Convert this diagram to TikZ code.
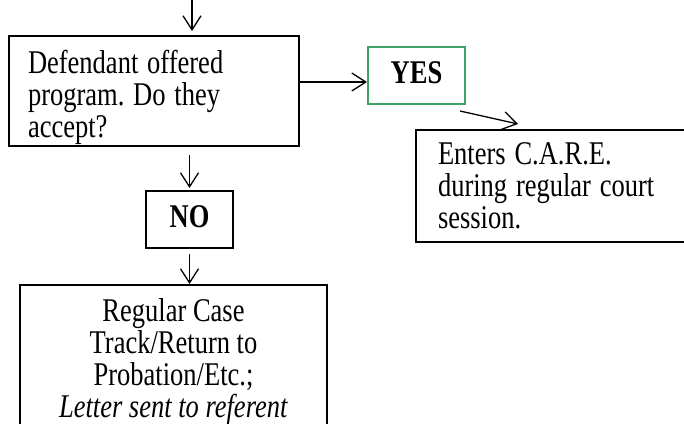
\documentclass[tikz,border=0pt]{standalone}
\usepackage{fontspec}
\setmainfont{Liberation Serif}
\usepackage{graphicx}
\usetikzlibrary{arrows.meta}

\definecolor{yesgreen}{RGB}{63,163,103}
\newcommand{\tallL}[1]{\noindent\scalebox{1}[1.25]{\begin{tabular}[t]{@{}l@{}}#1\end{tabular}}}
\newcommand{\tallC}[1]{\scalebox{1}[1.25]{\begin{tabular}[t]{@{}c@{}}#1\end{tabular}}}

\begin{document}
\frenchspacing
\begin{tikzpicture}[x=1pt, y=-1pt, >={Straight Barb[length=14pt,width=18pt]},
	box/.style={draw, line width=2pt, inner ysep=0pt, minimum height=0pt, font=\fontsize{26.5}{25.4}\selectfont},
	flow/.style={->, line width=1.3pt}]
			\useasboundingbox (0,0) rectangle (684,423);
			
			\node[box, anchor=north west, inner xsep=19pt, text width=252pt, text height=37pt, text depth=73pt] (offer) at (8,35) {\tallL{Defendant offered\\program. Do they\\accept?}};
			\node[box, draw=yesgreen, anchor=north west, minimum width=97pt, inner xsep=0pt, text height=36pt, text depth=21pt] (yes) at (367,46) {\tallC{\textbf{YES}}};
			\node[box, anchor=north west, inner xsep=22pt, text width=256pt, text height=34pt, text depth=78pt] (care) at (415,129) {\tallL{Enters C.A.R.E.\\during regular court\\session.}};
			\node[box, anchor=north west, minimum width=87pt, inner xsep=0pt, text height=36pt, text depth=21pt] (no) at (145,190) {\tallC{\textbf{NO}}};
			\node[box, anchor=north west, minimum width=307pt, inner xsep=0pt, text height=36pt, text depth=130pt, font=\fontsize{26.5}{24.4}\selectfont] (rcase) at (19,284) {\tallC{Regular Case\\Track/Return to\\Probation/Etc.;\\\textit{Letter sent to referent}}};
			
			\coordinate (entry) at (192,0);
			\path ([yshift=-6.5pt]yes.west) coordinate (yin);
			\draw[flow, shorten >=4pt] (entry) -- (entry |- offer.north);
			\draw[flow] (yin -| offer.east) -- (yin);
			\draw[flow] ([shift={(-6pt,-6pt)}]yes.south east) -- ([shift={(103pt,5pt)}]care.north west);
			\draw[flow, shorten <=8pt, shorten >=2pt] (no.north |- offer.south) -- (no.north);
			\draw[flow, shorten <=5pt] (no.south) -- (no.south |- rcase.north);
		\end{tikzpicture}
\end{document}
